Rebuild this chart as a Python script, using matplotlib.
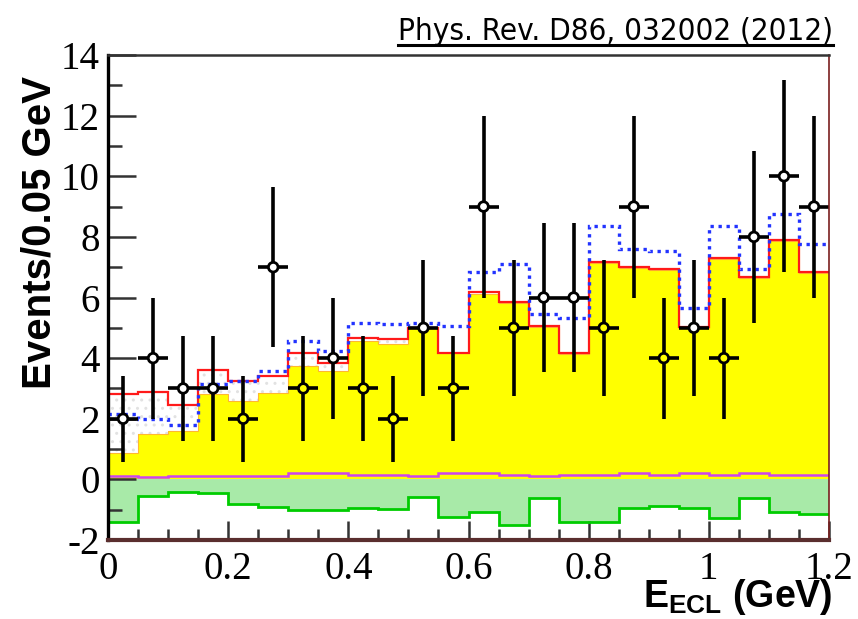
import numpy as np
import matplotlib
matplotlib.use('Agg')
import matplotlib.pyplot as plt
from matplotlib import font_manager as fm
from matplotlib.lines import Line2D

# E_ECL spectrum, 24 bins of 0.05 GeV
edges = np.linspace(0.0, 1.2, 25)
centers = 0.5*(edges[:-1] + edges[1:])

counts = [2, 4, 3, 3, 2, 7, 3, 4, 3, 2, 5, 3, 9, 5, 6, 6, 5, 9, 4, 5, 4, 8, 10, 9]

# total background (filled yellow)
bkg = [0.86, 1.5, 1.6, 2.83, 2.6, 2.85, 3.75, 3.58, 4.57, 4.47, 5.0, 4.17,
       6.12, 5.82, 5.03, 4.13, 7.14, 6.98, 6.92, 5.0, 7.27, 6.65, 7.86, 6.8]
# fit result (red)
fit = [2.83, 2.87, 2.47, 3.6, 3.26, 3.42, 4.17, 3.85, 4.67, 4.64, 5.0, 4.17,
       6.17, 5.86, 5.06, 4.16, 7.17, 7.01, 6.95, 5.03, 7.3, 6.68, 7.89, 6.83]
# signal expectation on top of background (blue dotted)
sig = [2.17, 2.0, 1.78, 3.15, 3.26, 3.58, 4.55, 4.24, 5.16, 5.13, 5.16, 5.07,
       6.85, 7.1, 5.45, 5.33, 8.36, 7.6, 7.55, 5.66, 8.36, 6.93, 8.75, 7.76]
# small component near zero (magenta)
other = [0.11, 0.09, 0.11, 0.11, 0.11, 0.11, 0.2, 0.2, 0.13, 0.16, 0.11, 0.2,
         0.2, 0.16, 0.11, 0.13, 0.16, 0.2, 0.16, 0.2, 0.13, 0.22, 0.16, 0.13]
# negative component (green)
neg = [-1.42, -0.56, -0.42, -0.46, -0.82, -0.91, -1.02, -1.02, -0.93, -0.99, -0.58, -1.24,
       -1.06, -1.52, -0.62, -1.42, -1.42, -0.93, -0.87, -0.93, -1.28, -0.62, -1.08, -1.15]

counts = np.array(counts, float)
bkg = np.array(bkg)
fit = np.array(fit)

def narrow_font():
    # any condensed sans face that is installed
    for f in fm.fontManager.ttflist:
        name = (f.name + ' ' + f.fname).lower()
        if ('condensed' in name or 'narrow' in name) and 'mono' not in name \
                and 'serif' not in f.name.lower() and f.weight in (400, 'normal', 500, 'medium'):
            return f
    return None

serif = 'Liberation Serif'
plt.rcParams['font.family'] = [serif, 'DejaVu Serif']
plt.rcParams['axes.unicode_minus'] = False
plt.rcParams['mathtext.fontset'] = 'custom'
plt.rcParams['mathtext.rm'] = 'Liberation Sans:bold'
plt.rcParams['mathtext.bf'] = 'Liberation Sans:bold'
plt.rcParams['hatch.linewidth'] = 1.0

fig = plt.figure(figsize=(8.58, 6.19), dpi=100)
ax = fig.add_axes([108/858, 1-540/619, (829-108)/858, (540-55)/619])

# green component below zero
plt.rcParams['hatch.color'] = '#86d886'
ax.stairs(neg, edges, baseline=0, fill=True, facecolor='#a8eaa8', hatch='....',
          edgecolor='#a8eaa8', lw=0, zorder=1)
ax.stairs(neg, edges, baseline=None, color='#00cc00', lw=2.0, zorder=2)

# background and grey-dotted gap up to the fit
ax.stairs(bkg, edges, baseline=0, fill=True, color='#ffff00', lw=0, zorder=1)
for i in range(len(centers)):
    if fit[i] - bkg[i] > 0.1:
        ax.fill_between([edges[i], edges[i+1]], bkg[i], fit[i], facecolor='white',
                        hatch='..', edgecolor='#e2e2e2', lw=0, zorder=1)
ax.stairs(bkg, edges, baseline=None, color='#ffb830', lw=0.8, zorder=2)

ax.stairs(other, edges, baseline=None, color='#cc44ee', lw=1.8, zorder=3)
ax.stairs(fit, edges, baseline=None, color='#ff1a1a', lw=1.6, zorder=3)
ax.stairs(sig, edges, baseline=None, color='#2233ff', lw=2.4,
          linestyle=(0, (1, 1.4)), zorder=3)

# data points, Poisson errors
err = np.sqrt(counts)
ax.errorbar(centers, counts, yerr=err, xerr=0.025, fmt='none', ecolor='black',
            elinewidth=2.6, capsize=0, zorder=4)
face = ['#ffff00' if c < b else 'white' for c, b in zip(counts, bkg)]
ax.scatter(centers, counts, s=48, facecolors=face, edgecolors='black',
           linewidths=2.0, zorder=5)

ax.set_xlim(0, 1.2)
ax.set_ylim(-2, 14)
ax.set_xticks([0, 0.2, 0.4, 0.6, 0.8, 1.0, 1.2])
ax.set_xticklabels(['0', '0.2', '0.4', '0.6', '0.8', '1', '1.2'])
ax.set_xticks(edges, minor=True)
ax.set_yticks(np.arange(-2, 15, 2))
ax.set_yticks(np.arange(-2, 15, 1), minor=True)
ax.tick_params(axis='both', which='both', direction='in', labelsize=28, width=1.8,
               color='#333333', zorder=6)
ax.tick_params(axis='y', which='major', length=20, pad=6)
ax.tick_params(axis='y', which='minor', length=10)
ax.tick_params(axis='x', which='major', length=14, pad=8)
ax.tick_params(axis='x', which='minor', length=8)
ax.tick_params(top=False, right=False, which='both')

ax.spines['left'].set_linewidth(2.4)
ax.spines['left'].set_color('black')
ax.spines['top'].set_linewidth(1.8)
ax.spines['top'].set_color('#333333')
ax.spines['right'].set_linewidth(1.2)
ax.spines['right'].set_color('#7a1f1f')
ax.spines['bottom'].set_linewidth(3.0)
ax.spines['bottom'].set_color('#5a2e2e')
for s in ax.spines.values():
    s.set_zorder(7)

ax.set_ylabel('Events/0.05 GeV', family=['Liberation Sans', 'DejaVu Sans'],
              fontweight='bold', fontsize=29)
ax.yaxis.set_label_coords(-0.068, 0.635)

fig.text(832/858, 1-617/619, r'$\mathrm{E}_{\mathrm{ECL}}$ (GeV)',
         family=['Liberation Sans', 'DejaVu Sans'], fontweight='bold',
         fontsize=27, ha='right', va='bottom')

# reference in the top corner, underlined
nf = narrow_font()
if nf is not None:
    fm.fontManager.addfont(nf.fname)
    ref_font, ref_size = nf.name, 22.5
else:
    ref_font, ref_size = 'DejaVu Sans', 19
ref = fig.text(833/858, 1-40/619, 'Phys. Rev. D86, 032002 (2012)',
               family=[ref_font, 'DejaVu Sans'], fontsize=ref_size,
               fontstretch='condensed', fontweight='medium',
               ha='right', va='baseline', color='black')
fig.canvas.draw()
bb = ref.get_window_extent().transformed(fig.transFigure.inverted())
fig.add_artist(Line2D([bb.x0, bb.x1], [1-45/619, 1-45/619], color='black',
                      lw=2.2, transform=fig.transFigure))

fig.savefig('out.png', dpi=100)
